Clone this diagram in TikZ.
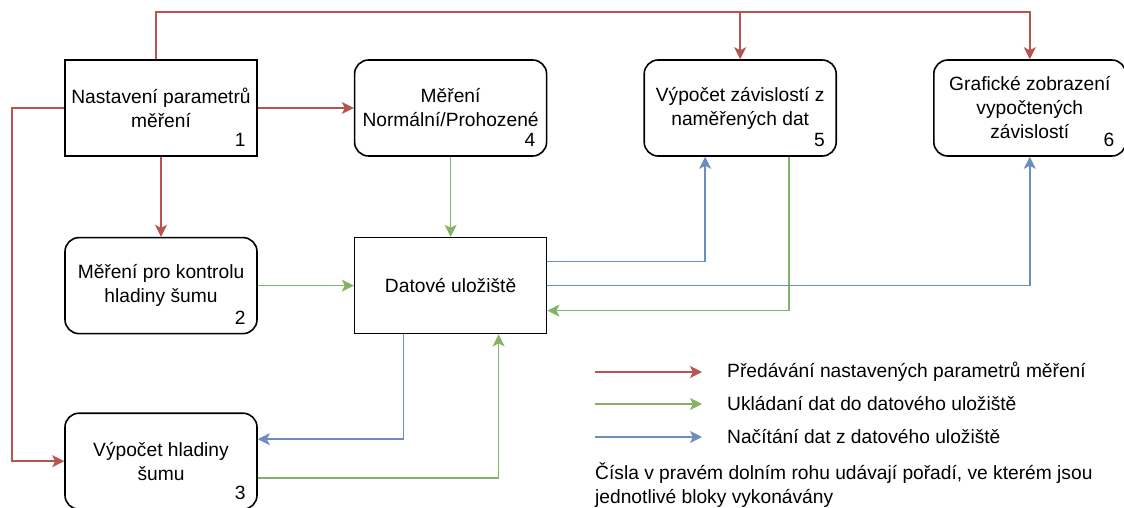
\documentclass[tikz,border=0pt]{standalone}
\usepackage{fontspec}
\setmainfont{Liberation Sans}
\usetikzlibrary{positioning, arrows.meta}

\definecolor{setred}{HTML}{B85450}
\definecolor{savegreen}{HTML}{82B366}
\definecolor{loadblue}{HTML}{6C8EBF}

\begin{document}
\begin{tikzpicture}[
        x=1pt, y=-1pt,
        every node/.style={align=center, font=\fontsize{19.2}{24}\selectfont},
        block/.style={rectangle, draw, line width=1.6pt, minimum width=192pt, minimum height=96pt, inner sep=2pt},
        roundblock/.style={block, rounded corners=14pt},
        order/.style={label={[anchor=south east, inner sep=0pt, xshift=-12pt, yshift=10pt]south east:#1}},
        legtext/.style={anchor=west, inner sep=0pt, align=left},
        flow/.style={line width=1.6pt, -{Stealth[length=12pt, width=12pt, inset=3pt]}},
        setflow/.style={flow, draw=setred},
        saveflow/.style={flow, draw=savegreen},
        loadflow/.style={flow, draw=loadblue},
        node distance=80pt and 96pt
      ]
      \useasboundingbox (0,0) rectangle (1124,507);

      % bloky
      \node[block, order=1] (param) at (161,108) {Nastavení parametrů\\ měření};
      \node[roundblock, order=4, right=of param] (mereni) {Měření\\ Normální/Prohozené};
      \node[roundblock, order=5, right=of mereni] (zavislosti) {Výpočet závislostí z\\ naměřených dat};
      \node[roundblock, order=6, right=of zavislosti] (graf) {Grafické zobrazení\\ vypočtených\\ závislostí};
      \node[roundblock, order=2, below=of param] (kontrola) {Měření pro kontrolu\\ hladiny šumu};
      \node[block, below=of mereni] (uloziste) {Datové uložiště};
      \node[roundblock, order=3, below=78pt of kontrola] (sum) {Výpočet hladiny\\ šumu};
      \coordinate (topline) at (0,12);

      % predavani parametru
      \draw[setflow] ([xshift=-5pt]param.north) |- (topline -| zavislosti) -- (zavislosti);
      \draw[setflow] ([xshift=-5pt]param.north) |- (topline -| graf) -- (graf);
      \draw[setflow] (param) -- (mereni);
      \draw[setflow] (param) -- (kontrola);
      \draw[setflow] (param.west) -- ++(-52,0) |- (sum.west);

      % ukladani dat
      \draw[saveflow] (mereni) -- (uloziste);
      \draw[saveflow] (kontrola) -- (uloziste);
      \draw[saveflow] ([yshift=-17pt]sum.east) -| ([xshift=48pt]uloziste.south);
      \draw[saveflow] ([xshift=49pt]zavislosti.south) |- ([yshift=-25pt]uloziste.east);

      % nacitani dat
      \draw[loadflow] ([xshift=-47pt]uloziste.south) |- ([yshift=22pt]sum.east);
      \draw[loadflow] ([yshift=24pt]uloziste.east) -| ([xshift=-35pt]zavislosti.south);
      \draw[loadflow] (uloziste.east) -| (graf.south);

      % legenda
      \node[legtext] (leg1) at (727,372) {Předávání nastavených parametrů měření};
      \node[legtext] (leg2) at (727,404) {Ukládaní dat do datového uložiště};
      \node[legtext] (leg3) at (727,437) {Načítání dat z datového uložiště};
      \draw[setflow] ([xshift=-132pt]leg1.west) -- ([xshift=-25pt]leg1.west);
      \draw[saveflow] ([xshift=-132pt]leg2.west) -- ([xshift=-25pt]leg2.west);
      \draw[loadflow] ([xshift=-132pt]leg3.west) -- ([xshift=-25pt]leg3.west);
      \node[legtext] (note) at (595,485) {Čísla v pravém dolním rohu udávají pořadí, ve kterém jsou\\ jednotlivé bloky vykonávány};
\end{tikzpicture}
\end{document}
